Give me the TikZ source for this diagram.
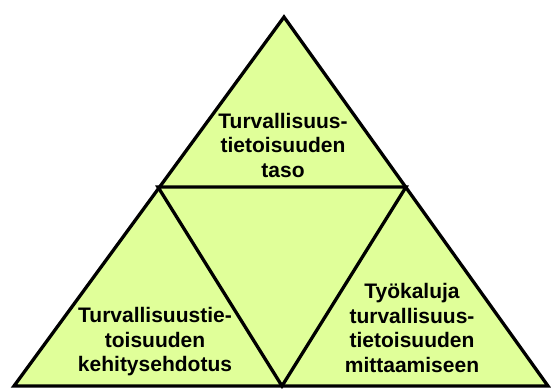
\documentclass[tikz,border=0pt]{standalone}
\usepackage{fontspec}
\setmainfont{Liberation Sans}
\usetikzlibrary{calc}
\definecolor{palegreen}{RGB}{224,255,153}

\begin{document}
\begin{tikzpicture}[x=1pt, y=-1pt,
        edge_style/.style={draw=black, line width=3.3pt, line join=miter},
        label_style/.style={align=center, inner sep=0pt, font=\fontsize{21}{24.5}\selectfont\bfseries}]

        \useasboundingbox (0,0) rectangle (551,388);

        % corners of the big triangle
        \coordinate (apex) at (284,17);
        \coordinate (bl) at (14,386);
        \coordinate (br) at (548,386);
        % corners of the middle triangle
        \coordinate (ml) at (158,187);
        \coordinate (mr) at (406,187);
        \coordinate (mb) at (282,386);

        \fill [palegreen] (apex) -- (bl) -- (br) -- cycle;
        \draw [edge_style] (apex) -- (bl) -- (br) -- cycle;
        \draw [edge_style] (ml) -- (mr) -- (mb) -- cycle;

        \node [label_style] (n1) at (283,145) {Turvallisuus-\\tietoisuuden\\taso};
        \node [label_style] (n2) at (155,342) {Turvallisuustie-\\toisuuden\\kehitysehdotus};
        \node [label_style] (n3) at (412,328) {Työkaluja\\turvallisuus-\\tietoisuuden\\mittaamiseen};
\end{tikzpicture}
\end{document}
